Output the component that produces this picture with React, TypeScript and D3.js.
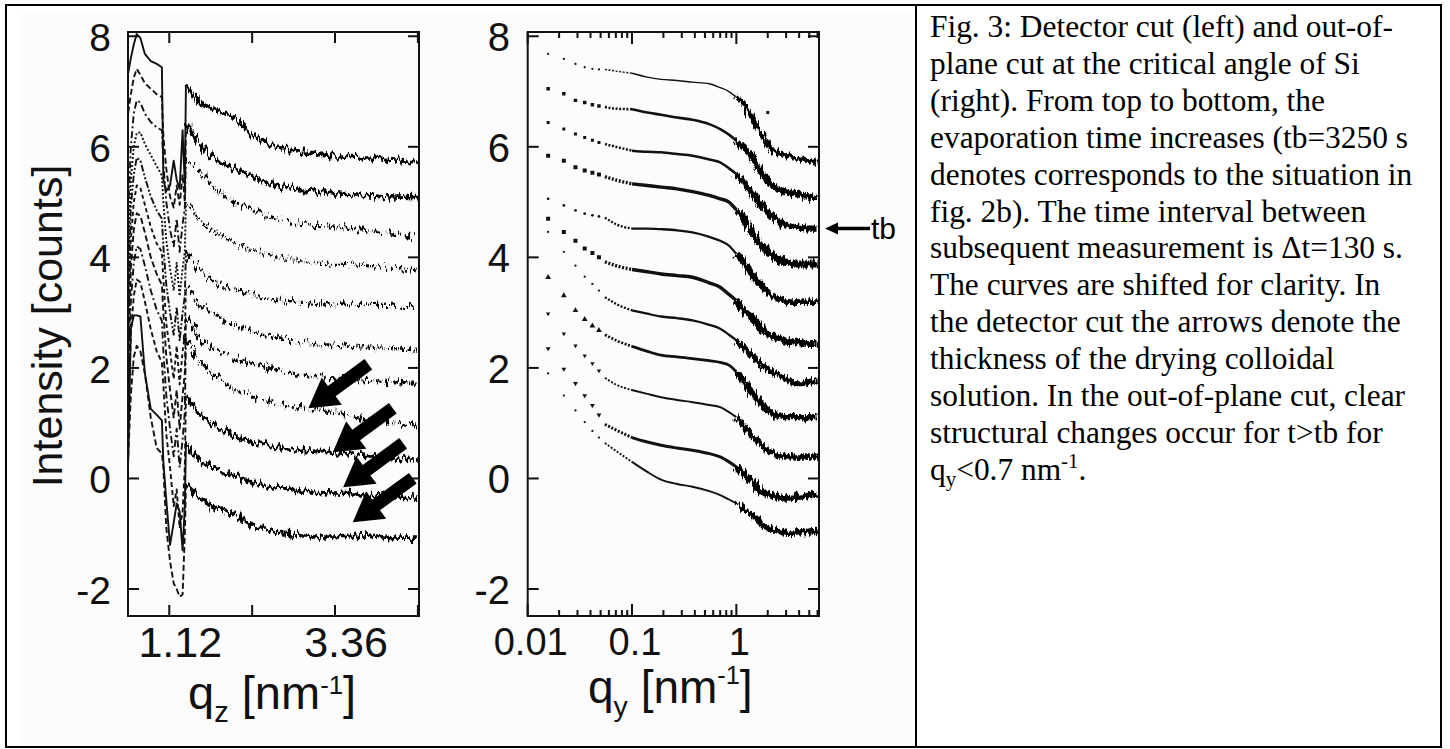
import React, { useEffect, useRef } from 'react';
import * as d3 from 'd3';

const W = 1450;
const H = 749;
const SANS = '"Liberation Sans", Arial, Helvetica, sans-serif';
const SERIF = '"Liberation Serif", "Times New Roman", Times, serif';

// ---- detector cut (left panel) ----
// sharp region: Yoneda peak, specular dip
const qzHead = [0.565, 0.6, 0.64, 0.68, 0.73, 0.79, 0.87, 0.95, 1.02, 1.04, 1.08, 1.13, 1.18, 1.22, 1.26, 1.3, 1.33];
// smooth decaying region after the jump
const qzTail = [1.345, 1.5, 1.75, 2.0, 2.25, 2.5, 2.75, 3.0, 3.25, 3.5, 3.75, 4.0, 4.25, 4.48];

const detectorHead = [
  [7.34, 7.6, 7.85, 8.04, 7.97, 7.68, 7.55, 7.5, 7.44, 5.4, 5.2, 5.3, 5.75, 5.4, 5.24, 6.3, 5.3],
  [6.62, 6.95, 7.25, 7.41, 7.3, 7.15, 7.05, 6.95, 6.9, 6.2, 5.6, 5.1, 4.9, 5.3, 4.95, 5.5, 5.0],
  [4.8, 6.0, 6.6, 6.84, 6.8, 6.6, 6.45, 6.35, 6.3, 5.7, 5.0, 4.5, 4.2, 4.7, 4.1, 4.6, 4.9],
  [3.9, 5.4, 6.0, 6.25, 6.26, 6.05, 5.85, 5.65, 5.48, 5.0, 4.3, 3.8, 3.4, 3.9, 3.3, 3.8, 4.1],
  [3.2, 4.9, 5.5, 5.8, 5.75, 5.45, 5.1, 4.85, 4.7, 4.2, 3.5, 3.0, 2.6, 3.1, 2.5, 3.0, 3.3],
  [2.6, 4.3, 5.0, 5.3, 5.25, 4.95, 4.55, 4.25, 4.1, 3.6, 2.8, 2.3, 1.8, 2.4, 1.7, 2.3, 2.6],
  [2.0, 3.8, 4.5, 4.8, 4.75, 4.45, 4.0, 3.7, 3.5, 3.0, 2.2, 1.6, 1.1, 1.6, 0.9, 1.5, 1.9],
  [1.5, 3.2, 3.9, 4.2, 4.15, 3.85, 3.4, 3.05, 2.85, 2.3, 1.5, 0.9, 0.4, 0.9, 0.2, 0.7, 1.2],
  [1.0, 2.6, 3.3, 3.6, 3.55, 3.2, 2.7, 2.3, 2.1, 1.7, 0.8, 0.2, -0.5, -0.2, -0.9, -0.6, 0.2],
  [0.3, 2.7, 2.95, 2.95, 2.93, 1.9, 1.26, 1.15, 1.05, 0.3, -0.4, -1.2, -0.8, -0.45, -0.6, -1.3, -0.5],
  [0.4, 1.5, 2.2, 2.4, 2.3, 1.9, 1.1, 0.55, 0.45, 0.2, -0.9, -1.5, -1.9, -2.0, -2.14, -2.1, -1.0],
];

const detectorTail = [
  [7.1, 6.85, 6.68, 6.52, 6.2, 6.05, 5.95, 5.9, 5.85, 5.83, 5.8, 5.78, 5.75, 5.72],
  [6.4, 6.1, 5.78, 5.6, 5.45, 5.33, 5.26, 5.2, 5.16, 5.14, 5.12, 5.1, 5.09, 5.08],
  [5.8, 5.6, 5.24, 5.0, 4.87, 4.72, 4.64, 4.6, 4.56, 4.53, 4.49, 4.45, 4.4, 4.37],
  [5.0, 4.72, 4.45, 4.25, 4.13, 4.03, 3.97, 3.92, 3.88, 3.87, 3.85, 3.84, 3.8, 3.76],
  [4.1, 3.82, 3.56, 3.42, 3.32, 3.25, 3.2, 3.18, 3.16, 3.16, 3.15, 3.15, 3.12, 3.1],
  [3.45, 3.2, 2.95, 2.75, 2.65, 2.57, 2.5, 2.45, 2.42, 2.4, 2.38, 2.36, 2.34, 2.32],
  [2.9, 2.6, 2.32, 2.18, 2.08, 2.0, 1.92, 1.86, 1.83, 1.8, 1.78, 1.76, 1.74, 1.72],
  [2.55, 2.2, 1.85, 1.62, 1.48, 1.38, 1.32, 1.28, 1.22, 1.15, 1.07, 1.02, 0.97, 0.93],
  [1.5, 1.2, 0.95, 0.78, 0.67, 0.58, 0.53, 0.5, 0.48, 0.45, 0.42, 0.39, 0.36, 0.33],
  [0.66, 0.35, 0.18, 0.05, -0.08, -0.16, -0.2, -0.24, -0.26, -0.27, -0.3, -0.32, -0.34, -0.36],
  [-0.1, -0.3, -0.55, -0.65, -0.85, -0.95, -1.0, -1.05, -1.06, -1.05, -1.02, -1.06, -1.08, -1.08],
];

const detectorDash = ['none', '6,3', '7,3,2,3', '2,2', '7,2,2,2,2,2', '4,3', '6,3', '7,3,2,3', '5,3', 'none', '6,3'];

const qzTicks = [1.12, 2.24, 3.36, 4.48];
const qzLabels = [1.12, 3.36];
const intensityTicks = [-2, 0, 2, 4, 6, 8];
// arrow tips [qz, intensity] marking the film thickness
const thicknessArrows = [[3.0, 1.27], [3.33, 0.475], [3.47, -0.16], [3.6, -0.79]];

// ---- out-of-plane cut (right panel) ----
const qyDots = [0.0157, 0.0222, 0.0287, 0.0352, 0.0417, 0.0482];
const qyLine = [0.055, 0.07, 0.1, 0.14, 0.19, 0.27, 0.38, 0.55, 0.7, 0.85, 1.0, 1.2, 1.4, 1.6, 1.8, 2.1, 2.5, 3.0, 3.5, 4.3, 5.0, 6.0];

const outPlaneDots = [
  [7.68, 7.59, 7.5, 7.44, 7.41, 7.4],
  [7.05, 6.96, 6.84, 6.8, 6.76, 6.74],
  [6.44, 6.32, 6.23, 6.17, 6.12, 6.08],
  [5.84, 5.75, 5.63, 5.57, 5.53, 5.5],
  [5.06, 4.94, 4.85, 4.79, 4.76, 4.74],
  [4.7, 4.46, 4.3, 4.16, 4.08, 4.0],
  [4.46, 4.1, 3.85, 3.65, 3.52, 3.4],
  [3.64, 3.31, 3.04, 2.88, 2.76, 2.68],
  [2.98, 2.62, 2.4, 2.22, 2.08, 1.95],
  [2.35, 1.98, 1.72, 1.5, 1.32, 1.15],
  [1.9, 1.5, 1.23, 1.02, 0.86, 0.74],
];

const outPlaneLine = [
  [7.4, 7.37, 7.33, 7.26, 7.22, 7.2, 7.17, 7.14, 7.07, 7.0, 6.9, 6.75, 6.55, 6.35, 6.2, 5.99, 5.89, 5.84, 5.81, 5.78, 5.75, 5.72],
  [6.72, 6.69, 6.68, 6.62, 6.58, 6.53, 6.49, 6.41, 6.32, 6.22, 6.11, 5.97, 5.83, 5.64, 5.5, 5.34, 5.24, 5.18, 5.16, 5.12, 5.1, 5.09],
  [6.05, 6.0, 5.93, 5.91, 5.9, 5.87, 5.84, 5.77, 5.72, 5.61, 5.51, 5.33, 5.17, 5.03, 4.91, 4.78, 4.66, 4.59, 4.55, 4.53, 4.52, 4.52],
  [5.46, 5.4, 5.33, 5.3, 5.27, 5.24, 5.19, 5.12, 5.06, 5.0, 4.86, 4.68, 4.46, 4.3, 4.18, 4.07, 3.96, 3.91, 3.88, 3.88, 3.88, 3.88],
  [4.72, 4.6, 4.52, 4.52, 4.51, 4.49, 4.45, 4.37, 4.3, 4.21, 4.06, 3.89, 3.7, 3.56, 3.46, 3.34, 3.26, 3.2, 3.19, 3.19, 3.19, 3.19],
  [3.92, 3.85, 3.78, 3.74, 3.7, 3.67, 3.64, 3.54, 3.46, 3.33, 3.22, 3.04, 2.9, 2.8, 2.68, 2.6, 2.53, 2.49, 2.47, 2.45, 2.44, 2.44],
  [3.28, 3.16, 3.04, 2.98, 2.93, 2.9, 2.86, 2.78, 2.71, 2.6, 2.5, 2.36, 2.22, 2.12, 2.02, 1.96, 1.88, 1.8, 1.74, 1.72, 1.75, 1.78],
  [2.6, 2.5, 2.39, 2.3, 2.23, 2.2, 2.17, 2.13, 2.1, 2.05, 1.93, 1.73, 1.56, 1.43, 1.31, 1.2, 1.14, 1.11, 1.11, 1.11, 1.11, 1.11],
  [1.82, 1.7, 1.6, 1.53, 1.47, 1.42, 1.38, 1.33, 1.29, 1.2, 1.11, 0.93, 0.78, 0.68, 0.58, 0.48, 0.42, 0.39, 0.39, 0.39, 0.39, 0.39],
  [0.98, 0.88, 0.74, 0.66, 0.6, 0.55, 0.51, 0.45, 0.39, 0.3, 0.21, 0.07, -0.06, -0.18, -0.26, -0.3, -0.33, -0.36, -0.35, -0.32, -0.3, -0.27],
  [0.64, 0.5, 0.3, 0.12, -0.02, -0.1, -0.15, -0.23, -0.3, -0.38, -0.45, -0.57, -0.66, -0.76, -0.85, -0.9, -0.95, -0.99, -0.99, -0.98, -0.97, -0.96],
];

const dotShape = ['circle', 'square', 'square', 'square', 'circle', 'square', 'circle', 'triangle', 'triangleDown', 'triangleDown', 'circle'];
const dotSize = [4, 12, 9, 16, 6, 16, 4, 14, 8, 10, 4];
const lineWidth = [1.4, 2.6, 2.5, 3.4, 2.3, 3.4, 2.3, 2.8, 1.9, 3.0, 1.9];
const strayPoint = [2.0, 6.62];
const qyLabels = [0.01, 0.1, 1];
const tbCurve = 2;

const captionLines = [
  'Fig. 3: Detector cut (left) and out-of-',
  'plane cut at the critical angle of Si',
  '(right). From top to bottom, the',
  'evaporation time increases (tb=3250 s',
  'denotes corresponds to the situation in',
  'fig. 2b). The time interval between',
  'subsequent measurement is \u0394t=130 s.',
  'The curves are shifted for clarity. In',
  'the detector cut the arrows denote the',
  'thickness of the drying colloidal',
  'solution. In the out-of-plane cut, clear',
  'structural changes occur for t>tb for',
];

export default function App() {
  const svgRef = useRef<SVGSVGElement>(null);

  useEffect(() => {
    const svg = d3.select(svgRef.current);
    svg.selectAll('*').remove();

    const L = { x0: 128, x1: 419, y0: 32, y1: 616 };
    const R = { x0: 527.7, x1: 819, y0: 32, y1: 616 };

    const xL = d3.scaleLinear().domain([0.562, 4.495]).range([L.x0, L.x1]);
    const xR = d3.scaleLog().domain([0.01, 6.2]).range([R.x0, R.x1]);
    const y = d3.scaleLinear().domain([-2.488, 8.077]).range([L.y1, L.y0]);

    const defs = svg.append('defs');
    // jitter filter used to give the measured curves their counting noise
    const noise = (id: string, freq: string, scale: number, seed: number) => {
      const f = defs.append('filter').attr('id', id)
        .attr('filterUnits', 'userSpaceOnUse')
        .attr('x', 0).attr('y', 0).attr('width', W).attr('height', H);
      f.append('feTurbulence').attr('type', 'fractalNoise')
        .attr('baseFrequency', freq).attr('numOctaves', 2).attr('seed', seed).attr('result', 'n');
      f.append('feDisplacementMap').attr('in', 'SourceGraphic').attr('in2', 'n')
        .attr('scale', scale).attr('xChannelSelector', 'R').attr('yChannelSelector', 'G');
    };
    noise('noiseL', '0.35 0.06', 14, 4);
    noise('noiseR', '0.45 0.08', 10, 9);

    defs.append('clipPath').attr('id', 'clipL').append('rect')
      .attr('x', L.x0).attr('y', L.y0).attr('width', L.x1 - L.x0).attr('height', L.y1 - L.y0);
    defs.append('clipPath').attr('id', 'clipR').append('rect')
      .attr('x', R.x0).attr('y', R.y0).attr('width', R.x1 - R.x0).attr('height', R.y1 - R.y0);

    // table cell layout
    svg.append('rect').attr('x', 20).attr('y', 13).attr('width', 892).attr('height', 730).attr('fill', '#fcfcfc');
    svg.append('rect').attr('x', 6).attr('y', 5).attr('width', 1435).attr('height', 742)
      .attr('fill', 'none').attr('stroke', '#000').attr('stroke-width', 2);
    svg.append('line').attr('x1', 916).attr('x2', 916).attr('y1', 5).attr('y2', 747)
      .attr('stroke', '#000').attr('stroke-width', 2);

    // ---- left panel curves ----
    const headLine = d3.line<number[]>().x(d => xL(d[0])).y(d => y(d[1]));
    const tailLine = d3.line<number[]>().x(d => xL(d[0])).y(d => y(d[1])).curve(d3.curveMonotoneX);
    const gL = svg.append('g').attr('clip-path', 'url(#clipL)');
    detectorHead.forEach((vals, i) => {
      const head = qzHead.map((q, j) => [q, vals[j]]);
      head.push([qzTail[0], detectorTail[i][0]]);
      gL.append('path').attr('d', headLine(head)!)
        .attr('fill', 'none').attr('stroke', '#111').attr('stroke-width', 1.9)
        .attr('stroke-dasharray', detectorDash[i]).attr('stroke-linejoin', 'round');
      const tail = qzTail.map((q, j) => [q, detectorTail[i][j]]);
      gL.append('path').attr('d', tailLine(tail)!)
        .attr('fill', 'none').attr('stroke', '#000').attr('stroke-width', i >= 8 || i < 2 ? 3.6 : 3.1)
        .attr('stroke-dasharray', detectorDash[i] === 'none' || i >= 8 || i < 2 ? 'none' : detectorDash[i])
        .attr('filter', 'url(#noiseL)');
    });

    // thickness arrows
    thicknessArrows.forEach(([q, v]) => {
      const tx = xL(q), ty = y(v);
      const dx = 60, dy = -44;
      const len = Math.hypot(dx, dy);
      const ux = dx / len, uy = dy / len;
      const nx = -uy, ny = ux;
      const hl = 29, hw = 17, sw = 6.5;
      const pts = [
        [tx, ty],
        [tx + ux * hl + nx * hw, ty + uy * hl + ny * hw],
        [tx + ux * hl + nx * sw, ty + uy * hl + ny * sw],
        [tx + dx + nx * sw, ty + dy + ny * sw],
        [tx + dx - nx * sw, ty + dy - ny * sw],
        [tx + ux * hl - nx * sw, ty + uy * hl - ny * sw],
        [tx + ux * hl - nx * hw, ty + uy * hl - ny * hw],
      ];
      svg.append('polygon').attr('points', pts.map(p => p.join(',')).join(' ')).attr('fill', '#000');
    });

    // ---- right panel curves ----
    const rLine = d3.line<number[]>().x(d => xR(d[0])).y(d => y(d[1])).curve(d3.curveMonotoneX);
    const gR = svg.append('g').attr('clip-path', 'url(#clipR)');
    outPlaneLine.forEach((vals, i) => {
      const pts = qyLine.map((q, j) => [q, vals[j]]);
      const lw = lineWidth[i];
      gR.append('path').attr('d', rLine(pts.slice(0, 3))!)
        .attr('fill', 'none').attr('stroke', '#111').attr('stroke-width', lw)
        .attr('stroke-dasharray', '2,1.6');
      gR.append('path').attr('d', rLine(pts.slice(2, 11))!)
        .attr('fill', 'none').attr('stroke', '#111').attr('stroke-width', lw);
      gR.append('path').attr('d', rLine(pts.slice(10))!)
        .attr('fill', 'none').attr('stroke', '#000').attr('stroke-width', lw + 3.6)
        .attr('filter', 'url(#noiseR)');

      const shape = dotShape[i];
      const sym = shape === 'square' ? d3.symbolSquare : shape === 'circle' ? d3.symbolCircle : d3.symbolTriangle;
      const gen = d3.symbol().type(sym).size(dotSize[i]);
      outPlaneDots[i].forEach((v, j) => {
        gR.append('path').attr('d', gen()!)
          .attr('transform', `translate(${xR(qyDots[j])},${y(v)})${shape === 'triangleDown' ? ' rotate(180)' : ''}`)
          .attr('fill', '#111');
      });
    });
    gR.append('rect').attr('x', xR(strayPoint[0]) - 1.5).attr('y', y(strayPoint[1]) - 1.5)
      .attr('width', 3).attr('height', 3).attr('fill', '#111');

    // tb marker
    const tbY = y(outPlaneLine[tbCurve][outPlaneLine[tbCurve].length - 1]);
    const tbX = R.x1 + 6;
    svg.append('line').attr('x1', tbX + 10).attr('x2', tbX + 45).attr('y1', tbY).attr('y2', tbY)
      .attr('stroke', '#000').attr('stroke-width', 3.5);
    svg.append('polygon')
      .attr('points', `${tbX},${tbY} ${tbX + 13},${tbY - 6} ${tbX + 13},${tbY + 6}`).attr('fill', '#000');
    svg.append('text').attr('x', tbX + 46).attr('y', tbY + 10)
      .attr('font-family', SANS).attr('font-size', 30).attr('fill', '#000').text('tb');

    // ---- frames and ticks ----
    const frame = (P: typeof L) => svg.append('rect')
      .attr('x', P.x0).attr('y', P.y0).attr('width', P.x1 - P.x0).attr('height', P.y1 - P.y0)
      .attr('fill', 'none').attr('stroke', '#111').attr('stroke-width', 2);
    const tick = (x1: number, y1: number, x2: number, y2: number) => svg.append('line')
      .attr('x1', x1).attr('y1', y1).attr('x2', x2).attr('y2', y2)
      .attr('stroke', '#111').attr('stroke-width', 2);

    [L, R].forEach(P => {
      frame(P);
      intensityTicks.forEach(t => {
        tick(P.x0, y(t), P.x0 + 11, y(t));
        tick(P.x1, y(t), P.x1 - 11, y(t));
      });
    });
    qzTicks.forEach(t => {
      tick(xL(t), L.y1, xL(t), L.y1 - 11);
      tick(xL(t), L.y0, xL(t), L.y0 + 11);
    });
    xR.ticks().forEach(t => {
      const major = Math.abs(Math.log10(t) - Math.round(Math.log10(t))) < 1e-6;
      const len = major ? 12 : 6;
      tick(xR(t), R.y1, xR(t), R.y1 - len);
      tick(xR(t), R.y0, xR(t), R.y0 + len);
    });

    // tick labels
    const label = (x: number, yy: number, txt: string, anchor: string, size: number) => svg.append('text')
      .attr('x', x).attr('y', yy).attr('text-anchor', anchor)
      .attr('font-family', SANS).attr('font-size', size).attr('fill', '#111').text(txt);
    intensityTicks.forEach(t => {
      label(111, y(t) + 15, String(t), 'end', 39);
      label(510, y(t) + 15, String(t), 'end', 40);
    });
    qzLabels.forEach(t => label(xL(t) + 11, 657, t.toFixed(2), 'middle', 43));
    qyLabels.forEach(t => label(xR(t) + 3, 655, String(t), 'middle', 38));

    // axis titles
    svg.append('text')
      .attr('transform', `translate(62,${(L.y0 + L.y1) / 2 + 2}) rotate(-90)`)
      .attr('text-anchor', 'middle').attr('font-family', SANS).attr('font-size', 43).attr('fill', '#111')
      .text('Intensity [counts]');

    const title = (x: number, base: number, size: number, sub: string, supRise: number) => {
      const t = svg.append('text').attr('x', x).attr('y', base)
        .attr('font-family', SANS).attr('font-size', size).attr('fill', '#111');
      t.append('tspan').text('q');
      t.append('tspan').attr('font-size', size * 0.62).attr('dy', 13).text(sub);
      t.append('tspan').attr('dy', -13).text(' [nm');
      t.append('tspan').attr('font-size', size * 0.55).attr('dy', -supRise).text('-1');
      t.append('tspan').attr('dy', supRise).text(']');
    };
    title(188, 709, 47, 'z', 15);
    title(588, 703, 46, 'y', 19);

    // ---- caption ----
    const cap = svg.append('g').attr('font-family', SERIF).attr('font-size', 31.4).attr('fill', '#000');
    captionLines.forEach((line, i) => {
      cap.append('text').attr('x', 930).attr('y', 37 + i * 36.9).text(line);
    });
    const last = cap.append('text').attr('x', 930).attr('y', 37 + captionLines.length * 36.9);
    last.append('tspan').text('q');
    last.append('tspan').attr('font-size', 21).attr('dy', 6).text('y');
    last.append('tspan').attr('dy', -6).text('<0.7 nm');
    last.append('tspan').attr('font-size', 21).attr('dy', -12).text('-1');
    last.append('tspan').attr('dy', 12).text('.');
  }, []);

  return (
    <svg
      ref={svgRef}
      width={W}
      height={H}
      style={{ position: 'absolute', left: 0, top: 0, background: '#fff', display: 'block' }}
    />
  );
}
